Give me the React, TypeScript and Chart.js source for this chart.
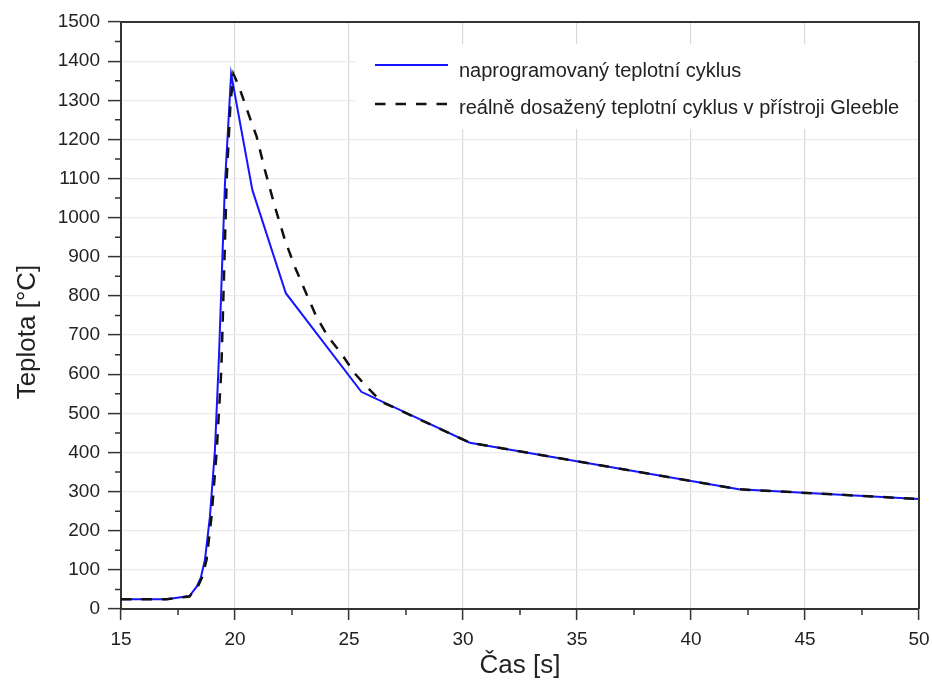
import React, { useEffect, useRef } from "react";
import { Chart, registerables } from "chart.js";

Chart.register(...registerables);

// Programmed cycle (blue, solid)
const timeProg = [15, 17, 18, 18.32, 18.5, 18.68, 18.9, 19.12, 19.3, 19.56, 19.83, 20.76, 22.23, 25.54, 30.3, 42.1, 50];
const tempProg = [25, 25, 33, 57, 80, 125, 236, 406, 650, 1088, 1367, 1071, 807, 555, 425, 306, 281];

// Real cycle in Gleeble (black, dashed)
const timeReal = [15, 17, 18, 18.35, 18.55, 18.75, 18.97, 19.2, 19.4, 19.64, 19.8, 19.93, 20.15, 20.58, 20.95, 21.31, 21.75, 22.19, 22.62, 23.06, 23.57, 24.08, 24.66, 25.25, 25.84, 26.41, 30.3, 42.1, 50];
const tempReal = [25, 25, 32, 55, 80, 125, 236, 406, 611, 1105, 1290, 1367, 1339, 1267, 1207, 1122, 1028, 943, 875, 815, 747, 696, 653, 602, 564, 530, 425, 306, 281];

const legendLabels = ["naprogramovaný teplotní cyklus", "reálně dosažený teplotní cyklus v přístroji Gleeble"];
const xTitle = "Čas [s]";
const yTitle = "Teplota [°C]";

const xMinorTicks = [17.5, 22.5, 27.5, 32.5, 37.5, 42.5, 47.5];
const yMinorTicks = [50, 150, 250, 350, 450, 550, 650, 750, 850, 950, 1050, 1150, 1250, 1350, 1450];

const FONT = "'Liberation Sans', Arial, sans-serif";
const BLUE = "#1515ff";
const AXIS = "#333333";

export default function App() {
  const ref = useRef<HTMLCanvasElement | null>(null);

  useEffect(() => {
    if (!ref.current) return;
    const decor = {
      id: "decor",
      afterDraw(chart: any) {
        const ctx = chart.ctx;
        const { left, right, top, bottom } = chart.chartArea;
        const xs = chart.scales.x;
        const ys = chart.scales.y;
        ctx.save();
        // legend background
        ctx.fillStyle = "#ffffff";
        ctx.fillRect(355, 44, 560, 85);
        // frame (top & right)
        ctx.strokeStyle = AXIS;
        ctx.lineWidth = 2;
        ctx.beginPath();
        ctx.moveTo(left, top);
        ctx.lineTo(right, top);
        ctx.lineTo(right, bottom);
        ctx.stroke();
        // minor ticks
        ctx.lineWidth = 1.5;
        ctx.beginPath();
        xMinorTicks.forEach((v) => {
          const p = xs.getPixelForValue(v);
          ctx.moveTo(p, bottom);
          ctx.lineTo(p, bottom + 6);
        });
        yMinorTicks.forEach((v) => {
          const p = ys.getPixelForValue(v);
          ctx.moveTo(left - 6, p);
          ctx.lineTo(left, p);
        });
        ctx.stroke();

        // legend
        ctx.lineWidth = 2;
        ctx.strokeStyle = BLUE;
        ctx.setLineDash([]);
        ctx.beginPath();
        ctx.moveTo(375, 65);
        ctx.lineTo(448, 65);
        ctx.stroke();
        ctx.strokeStyle = "#111";
        ctx.lineWidth = 2.5;
        ctx.setLineDash([10.5, 10]);
        ctx.beginPath();
        ctx.moveTo(375, 104);
        ctx.lineTo(448, 104);
        ctx.stroke();
        ctx.setLineDash([]);
        ctx.fillStyle = "#222";
        ctx.font = `20px ${FONT}`;
        ctx.textAlign = "left";
        ctx.textBaseline = "middle";
        ctx.fillText(legendLabels[0], 459, 71);
        ctx.fillText(legendLabels[1], 459, 108);

        // axis titles
        ctx.font = `26px ${FONT}`;
        ctx.textAlign = "center";
        ctx.textBaseline = "middle";
        ctx.fillText(xTitle, (left + right) / 2, 666);
        ctx.save();
        ctx.translate(28, 332);
        ctx.rotate(-Math.PI / 2);
        ctx.fillText(yTitle, 0, 0);
        ctx.restore();
        ctx.restore();
      },
    };

    const chart = new Chart(ref.current, {
      type: "line",
      data: {
        datasets: [
          {
            label: legendLabels[1],
            data: timeReal.map((t, i) => ({ x: t, y: tempReal[i] })),
            borderColor: "#111",
            borderWidth: 2.5,
            borderDash: [10.5, 10],
            pointRadius: 0,
            tension: 0,
            fill: false,
            order: 0,
          },
          {
            label: legendLabels[0],
            data: timeProg.map((t, i) => ({ x: t, y: tempProg[i] })),
            borderColor: BLUE,
            borderWidth: 2,
            pointRadius: 0,
            tension: 0,
            fill: false,
            order: 1,
          },
        ],
      },
      options: {
        animation: false,
        responsive: false,
        maintainAspectRatio: false,
        layout: { padding: { top: 22, right: 13, left: 0, bottom: 0 } },
        plugins: { legend: { display: false }, tooltip: { enabled: false } },
        scales: {
          x: {
            type: "linear",
            min: 15,
            max: 50,
            ticks: { stepSize: 5, padding: 8, color: "#222", font: { family: FONT, size: 19 }, callback: (v: any) => String(v) },
            grid: { color: "#d9d9d9", lineWidth: 1.2, tickColor: AXIS, tickLength: 11, tickWidth: 1.5 },
            border: { color: AXIS, width: 2 },
            afterFit: (s: any) => { s.height = 79; s.paddingLeft = 0; s.paddingRight = 0; },
          },
          y: {
            min: 0,
            max: 1500,
            ticks: { stepSize: 100, padding: 8, color: "#222", font: { family: FONT, size: 19 }, callback: (v: any) => String(v) },
            grid: { color: "#ececec", lineWidth: 1.2, tickColor: AXIS, tickLength: 13, tickWidth: 1.5 },
            border: { color: AXIS, width: 2 },
            afterFit: (s: any) => { s.width = 121; s.paddingTop = 0; s.paddingBottom = 0; },
          },
        },
      },
      plugins: [decor],
    } as any);
    return () => chart.destroy();
  }, []);

  return (
    <div style={{ position: "fixed", left: 0, top: 0, width: 932, height: 688, background: "#fff" }}>
      <canvas ref={ref} width={932} height={688} style={{ width: 932, height: 688, display: "block" }} />
    </div>
  );
}
